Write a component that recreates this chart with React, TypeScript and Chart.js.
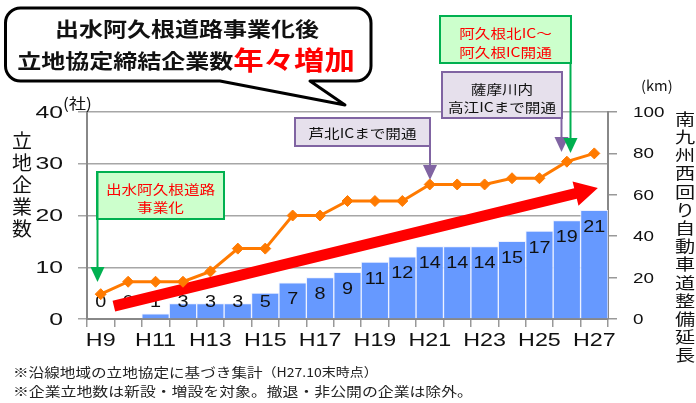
import { useEffect, useRef } from 'react';
import { Chart, registerables } from 'chart.js';

Chart.register(...registerables);

// ---------- data ----------
const categories = ['H9', 'H10', 'H11', 'H12', 'H13', 'H14', 'H15', 'H16', 'H17', 'H18', 'H19', 'H20', 'H21', 'H22', 'H23', 'H24', 'H25', 'H26', 'H27'];
const companyCounts = [0, 0, 1, 3, 3, 3, 5, 7, 8, 9, 11, 12, 14, 14, 14, 15, 17, 19, 21];
const roadLengthKm = [12, 18, 18, 18, 23, 34, 34, 50, 50, 57, 57, 57, 65, 65, 65, 68, 68, 76, 80];
const leftTicks = [0, 10, 20, 30, 40];
const rightTicks = [0, 20, 40, 60, 80, 100];
const shownXLabels = ['H9', 'H11', 'H13', 'H15', 'H17', 'H19', 'H21', 'H23', 'H25', 'H27'];
// trend arrow in data units: [category index, company count]
const trendStart = [0.48, 2.5];
const trendEnd = [18.13, 25.3];

const titleLine1 = '出水阿久根道路事業化後';
const titleLine2a = '立地協定締結企業数';
const titleLine2b = '年々増加';
const leftTitle = '立地企業数';
const rightTitle = '南九州西回り自動車道整備延長';
const note1a = '※沿線地域の立地協定に基づき集計';
const note1b = '（H27.10末時点）';
const note2 = '※企業立地数は新設・増設を対象。撤退・非公開の企業は除外。';

const JP = '"Noto Sans CJK JP", "Noto Sans", sans-serif';
const LAT = '"Liberation Sans", Arial, sans-serif';

type TOpt = { size: number; color?: string; align?: CanvasTextAlign; sx?: number; weight?: string; family?: string };
function drawText(ctx: CanvasRenderingContext2D, s: string, x: number, y: number, o: TOpt) {
  ctx.save();
  ctx.translate(x, y);
  ctx.scale(o.sx ?? 1, 1);
  ctx.font = `${o.weight ?? 'normal'} ${o.size}px ${o.family ?? JP}`;
  ctx.fillStyle = o.color ?? '#111';
  ctx.textAlign = o.align ?? 'left';
  ctx.textBaseline = 'middle';
  ctx.fillText(s, 0, 0);
  ctx.restore();
}
function textWidth(ctx: CanvasRenderingContext2D, s: string, o: TOpt) {
  ctx.save();
  ctx.font = `${o.weight ?? 'normal'} ${o.size}px ${o.family ?? JP}`;
  const w = ctx.measureText(s).width * (o.sx ?? 1);
  ctx.restore();
  return w;
}

type Ann = { lines: string[]; box: [number, number, number, number]; lineY: number[]; textColor: string; fill: string; stroke: string; arrowX: number; arrowY0: number; tipY: number };
const annotations: Ann[] = [
  { lines: ['出水阿久根道路', '事業化'], box: [97, 172, 224, 219], lineY: [189, 207], textColor: '#FF0000', fill: '#CCFFCC', stroke: '#00B050', arrowX: 97.5, arrowY0: 172, tipY: 282 },
  { lines: ['芦北ICまで開通'], box: [295, 118, 430, 146], lineY: [133], textColor: '#111', fill: '#E6E0EC', stroke: '#8064A2', arrowX: 430, arrowY0: 146, tipY: 180 },
  { lines: ['薩摩川内', '高江ICまで開通'], box: [442, 72, 562, 118], lineY: [89, 107], textColor: '#111', fill: '#E6E0EC', stroke: '#8064A2', arrowX: 561.5, arrowY0: 118, tipY: 152 },
  { lines: ['阿久根北IC～', '阿久根IC開通'], box: [440, 16, 571, 63], lineY: [33, 52], textColor: '#FF0000', fill: '#CCFFCC', stroke: '#00B050', arrowX: 570.5, arrowY0: 63, tipY: 153 },
];

const overlay = {
  id: 'overlay',
  afterDatasetDraw(chart: any, args: any) {
    if (args.index !== 0) return;
    const ctx: CanvasRenderingContext2D = chart.ctx;
    const meta = chart.getDatasetMeta(0);
    const yS = chart.scales.y;
    const xS = chart.scales.x;
    const base = yS.getPixelForValue(0);
    meta.data.forEach((bar: any, i: number) => {
      const ty = Math.min(bar.y + 17, base - 17);
      drawText(ctx, String(companyCounts[i]), bar.x, ty, { size: 16.5, family: LAT, align: 'center', sx: 1.2, color: '#111' });
    });
    // red trend arrow
    const x0 = xS.getPixelForValue(trendStart[0]);
    const y0 = yS.getPixelForValue(trendStart[1]);
    const x1 = xS.getPixelForValue(trendEnd[0]);
    const y1 = yS.getPixelForValue(trendEnd[1]);
    const len = Math.hypot(x1 - x0, y1 - y0);
    const dx = (x1 - x0) / len, dy = (y1 - y0) / len;
    const nx = -dy, ny = dx;
    const hw = 5.5, headL = 23, headW = 12.5;
    const bx = x1 - dx * headL, by = y1 - dy * headL;
    ctx.save();
    ctx.fillStyle = '#FF0000';
    ctx.beginPath();
    ctx.moveTo(x0 + nx * hw, y0 + ny * hw);
    ctx.lineTo(bx + nx * hw, by + ny * hw);
    ctx.lineTo(bx + nx * headW, by + ny * headW);
    ctx.lineTo(x1, y1);
    ctx.lineTo(bx - nx * headW, by - ny * headW);
    ctx.lineTo(bx - nx * hw, by - ny * hw);
    ctx.lineTo(x0 - nx * hw, y0 - ny * hw);
    ctx.closePath();
    ctx.fill();
    ctx.restore();
  },
  afterDraw(chart: any) {
    const ctx: CanvasRenderingContext2D = chart.ctx;
    const xS = chart.scales.x, yS = chart.scales.y, y2 = chart.scales.y2;
    // tick labels
    leftTicks.forEach((v) => drawText(ctx, String(v), yS.right - 24, yS.getPixelForValue(v) + 1, { size: 16.5, family: LAT, align: 'right', sx: 1.5 }));
    rightTicks.forEach((v) => drawText(ctx, String(v), y2.left + 25, y2.getPixelForValue(v) + 1, { size: 14.5, family: LAT, align: 'left', sx: 1.3 }));
    categories.forEach((c, i) => {
      if (!shownXLabels.includes(c)) return;
      drawText(ctx, c, xS.getPixelForValue(i), 341, { size: 17.5, family: LAT, align: 'center', sx: 1.33 });
    });
    // unit labels
    drawText(ctx, '(社)', 63, 103, { size: 15, sx: 1.15 });
    drawText(ctx, '(km)', 641, 86, { size: 14, sx: 1.05 });
    // left vertical title
    for (let i = 0; i < leftTitle.length; i++) {
      drawText(ctx, leftTitle[i], 22, 141 + i * 22, { size: 19, align: 'center', sx: 1.05 });
    }
    // right vertical title
    for (let i = 0; i < rightTitle.length; i++) {
      drawText(ctx, rightTitle[i], 685, 119 + i * 18.2, { size: 15.5, align: 'center', sx: 1.3 });
    }
    // annotations
    annotations.forEach((a) => {
      const [l, t, r, b] = a.box;
      ctx.save();
      ctx.fillStyle = a.fill;
      ctx.strokeStyle = a.stroke;
      ctx.lineWidth = 2;
      ctx.fillRect(l, t, r - l, b - t);
      ctx.strokeRect(l, t, r - l, b - t);
      // arrow
      ctx.beginPath();
      ctx.moveTo(a.arrowX, a.arrowY0);
      ctx.lineTo(a.arrowX, a.tipY - 14);
      ctx.stroke();
      ctx.fillStyle = a.stroke;
      ctx.beginPath();
      ctx.moveTo(a.arrowX - 7, a.tipY - 15);
      ctx.lineTo(a.arrowX + 7, a.tipY - 15);
      ctx.lineTo(a.arrowX, a.tipY);
      ctx.closePath();
      ctx.fill();
      ctx.restore();
      a.lines.forEach((s, k) => drawText(ctx, s, (l + r) / 2, a.lineY[k], { size: 13, align: 'center', sx: 1.2, color: a.textColor }));
    });
    // speech bubble
    ctx.save();
    const L = 5.5, T = 8, R = 371, B = 81, rr = 15;
    ctx.beginPath();
    ctx.moveTo(L + rr, T);
    ctx.lineTo(R - rr, T);
    ctx.arcTo(R, T, R, T + rr, rr);
    ctx.lineTo(R, B - rr);
    ctx.arcTo(R, B, R - rr, B, rr);
    ctx.lineTo(310, B);
    ctx.lineTo(345, 105);
    ctx.lineTo(220, B);
    ctx.lineTo(L + rr, B);
    ctx.arcTo(L, B, L, B - rr, rr);
    ctx.lineTo(L, T + rr);
    ctx.arcTo(L, T, L + rr, T, rr);
    ctx.closePath();
    ctx.fillStyle = '#fff';
    ctx.fill();
    ctx.lineWidth = 3;
    ctx.lineJoin = 'round';
    ctx.strokeStyle = '#000';
    ctx.stroke();
    ctx.restore();
    drawText(ctx, titleLine1, 187, 29, { size: 20, weight: 'bold', align: 'center', sx: 1.2, color: '#111' });
    const o2a: TOpt = { size: 20, weight: 'bold', sx: 1.2, color: '#111' };
    const o2b: TOpt = { size: 26, weight: 'bold', sx: 1.17, color: '#FF0000' };
    const w2 = textWidth(ctx, titleLine2a, o2a) + textWidth(ctx, titleLine2b, o2b);
    const sx0 = 186 - w2 / 2;
    drawText(ctx, titleLine2a, sx0, 61, o2a);
    drawText(ctx, titleLine2b, sx0 + textWidth(ctx, titleLine2a, o2a), 60, o2b);
    // footnotes
    const nOpt: TOpt = { size: 13, sx: 1.2, color: '#222' };
    drawText(ctx, note1a, 13, 372, nOpt);
    drawText(ctx, note1b, 13 + textWidth(ctx, note1a, nOpt), 372, { size: 12.5, sx: 1.12, color: '#222' });
    drawText(ctx, note2, 13, 391, { size: 13, sx: 1.22, color: '#222' });
  },
};

export default function App() {
  const ref = useRef<HTMLCanvasElement>(null);
  useEffect(() => {
    const canvas = ref.current!;
    const chart = new Chart(canvas, {
      type: 'bar',
      data: {
        labels: categories,
        datasets: [
          {
            type: 'bar',
            label: '立地企業数',
            data: companyCounts,
            yAxisID: 'y',
            backgroundColor: '#6699FF',
            borderColor: 'rgba(235,240,255,0.9)',
            borderWidth: 1,
            barPercentage: 1,
            categoryPercentage: 1,
            order: 2,
          } as any,
          {
            type: 'line',
            label: '整備延長',
            data: roadLengthKm,
            yAxisID: 'y2',
            borderColor: '#FF7A00',
            backgroundColor: '#FF7A00',
            borderWidth: 3,
            pointStyle: 'rectRot',
            pointRadius: 5.5,
            pointBorderWidth: 1,
            tension: 0,
            order: 1,
          } as any,
        ],
      },
      options: {
        responsive: false,
        animation: false,
        devicePixelRatio: 1,
        layout: { padding: { left: 0, right: 0, top: 112, bottom: 0 } },
        plugins: { legend: { display: false }, tooltip: { enabled: false }, title: { display: false } },
        scales: {
          x: {
            type: 'category',
            offset: true,
            ticks: { display: false },
            grid: { display: true, offset: true, drawOnChartArea: false, drawTicks: true, tickLength: 8, color: '#999', lineWidth: 1.5 },
            border: { display: true, color: '#888', width: 2 },
            afterFit: (s: any) => { s.height = 84; },
          },
          y: {
            position: 'left',
            min: 0,
            max: 40,
            ticks: { display: false, stepSize: 10 },
            grid: { color: '#A6A6A6', lineWidth: 1.5, tickLength: 9, drawTicks: true },
            border: { display: true, color: '#888', width: 2 },
            afterFit: (s: any) => { s.width = 87; },
          },
          y2: {
            position: 'right',
            min: 0,
            max: 100,
            ticks: { display: false, stepSize: 20 },
            grid: { drawOnChartArea: false, tickLength: 9, color: '#999', lineWidth: 1.5 },
            border: { display: true, color: '#888', width: 2 },
            afterFit: (s: any) => { s.width = 88; },
          },
        },
      } as any,
      plugins: [overlay],
    });
    return () => chart.destroy();
  }, []);
  return (
    <div style={{ position: 'absolute', left: 0, top: 0, width: 696, height: 403, background: '#fff' }}>
      <canvas ref={ref} width={696} height={403} style={{ display: 'block', width: 696, height: 403 }} />
    </div>
  );
}
